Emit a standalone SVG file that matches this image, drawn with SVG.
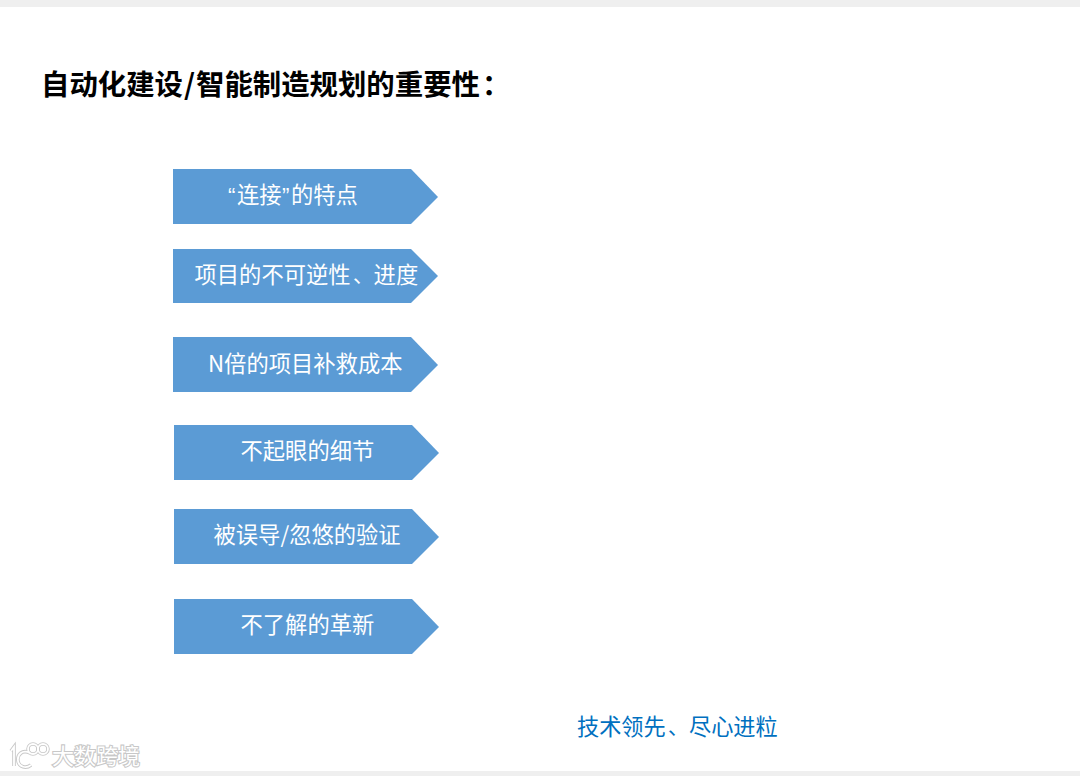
<svg xmlns="http://www.w3.org/2000/svg" width="1080" height="776" viewBox="0 0 1080 776">
<style>
.cjk{font-family:"Noto Sans CJK SC","Liberation Sans",sans-serif}
.lat{font-family:"Liberation Sans",sans-serif}
.lab{font-size:22.3px;fill:#fff}
.box{fill:#5b9bd5}
.wm{font-size:22px;fill:#fff;stroke:#c8c8c8;stroke-width:2.2px;paint-order:stroke}
.lg{fill:none;stroke:#c8c8c8;stroke-width:3.6px}
.lw{fill:none;stroke:#fff;stroke-width:1.8px}
</style>
<rect width="1080" height="776" fill="#fff"/>
<rect width="1080" height="7" fill="#efefef"/>
<rect y="771" width="1080" height="5" fill="#efefef"/>
<text id="title" class="cjk" x="41" y="95" font-size="28.4" font-weight="700" fill="#000">自动化建设<tspan x="184">/</tspan><tspan x="196">智能制造规划的重要性</tspan><tspan x="482">：</tspan></text>
<g id="n1"><polygon class="box" points="173,169 411,169 438,197 411,224 173,224"/><text class="cjk lab" y="203"><tspan class="lat" x="228">“</tspan><tspan x="237">连接</tspan><tspan class="lat" x="282">”</tspan><tspan x="291">的特点</tspan></text></g>
<g id="n2"><polygon class="box" points="173,249 411,249 438,276 411,303 173,303"/><text class="cjk lab" y="283"><tspan x="194.500">项目的不可逆性</tspan><tspan x="353" font-size="20.5">、</tspan><tspan x="373.600">进度</tspan></text></g>
<g id="n3"><polygon class="box" points="173,337 411,337 438,365 411,392 173,392"/><text class="cjk lab" x="208" y="372">N倍的项目补救成本</text></g>
<g id="n4"><polygon class="box" points="174,425 412,425 439,453 412,480 174,480"/><text class="cjk lab" x="240.500" y="459">不起眼的细节</text></g>
<g id="n5"><polygon class="box" points="174,509 412,509 439,537 412,564 174,564"/><text class="cjk lab" x="213.500" y="543">被误导/忽悠的验证</text></g>
<g id="n6"><polygon class="box" points="174,599 412,599 439,627 412,654 174,654"/><text class="cjk lab" x="240.500" y="633">不了解的革新</text></g>
<text id="slogan" class="cjk" y="735" font-size="22.2" fill="#0070c0"><tspan x="577">技术领先</tspan><tspan x="668" font-size="20.5">、</tspan><tspan x="689">尽心进粒</tspan></text>
<g id="watermark">
<path class="lg" d="M11,751 L14,747 V766 M30,753 C22,749 17,755 18,761 C19,767 26,769 31,765"/>
<circle class="lg" cx="33" cy="749" r="5"/><circle class="lg" cx="43" cy="749" r="5"/>
<path class="lw" d="M11,751 L14,747 V766 M30,753 C22,749 17,755 18,761 C19,767 26,769 31,765"/>
<circle class="lw" cx="33" cy="749" r="5"/><circle class="lw" cx="43" cy="749" r="5"/>
<text class="cjk wm" x="52" y="764">大数跨境</text>
</g>
</svg>
